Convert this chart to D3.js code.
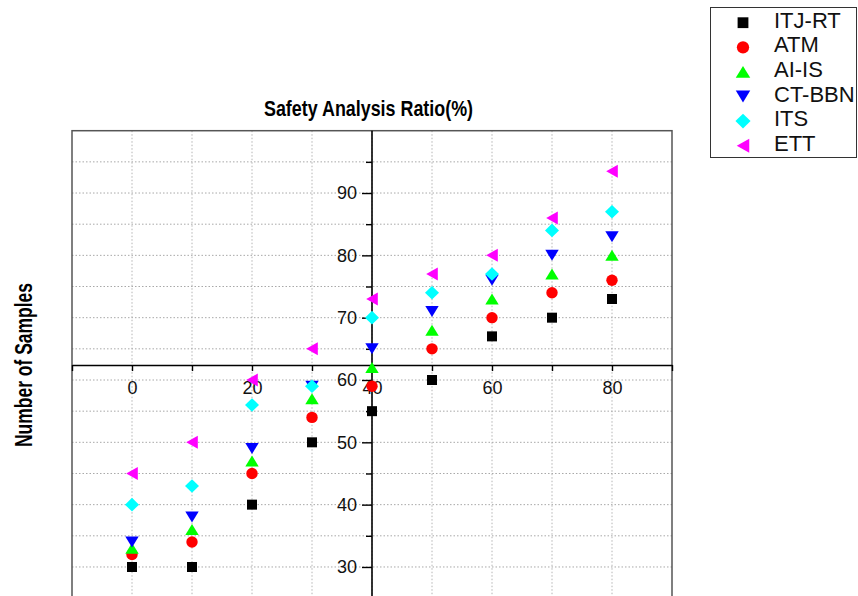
<!DOCTYPE html>
<html>
<head>
<meta charset="utf-8">
<script src="https://cdn.jsdelivr.net/npm/d3@7"></script>
<style>
  body { margin: 0; background: #fff; }
  svg { display: block; font-family: "Liberation Sans", Arial, sans-serif; }
</style>
</head>
<body>
<div id="chart"></div>
<script>
'use strict';

// Data: sample ratio (%) on x, number of samples on y, one array per method
var ratios = [0, 10, 20, 30, 40, 50, 60, 70, 80]
var seriesNames = ['ITJ-RT', 'ATM', 'AI-IS', 'CT-BBN', 'ITS', 'ETT']
var itjRt  = [30, 30, 40, 50, 55, 60, 67, 70, 73]
var atm    = [32, 34, 45, 54, 59, 65, 70, 74, 76]
var aiIs   = [33, 36, 47, 57, 62, 68, 73, 77, 80]
var ctBbn  = [34, 38, 49, 59, 65, 71, 76, 80, 83]
var its    = [40, 43, 56, 59, 70, 74, 77, 84, 87]
var ett    = [45, 50, 60, 65, 73, 77, 80, 86, 93.5]
var xTicks = [0, 20, 40, 60, 80]
var yTicks = [30, 40, 50, 60, 70, 80, 90]

var width = 858, height = 596

var x = d3.scaleLinear().domain([-10, 90]).range([72, 672])
var y = d3.scaleLinear().domain([20, 100]).range([629.3, 130.7])
var xAxisAt = 62.4  // value of y where the x axis crosses
var yAxisAt = 40    // value of x where the y axis crosses

var colorize = function(type){
  if (type=='ITJ-RT') return '#000000'
  if (type=='ATM') return '#ff0000'
  if (type=='AI-IS') return '#00ff00'
  if (type=='CT-BBN') return '#0000ff'
  if (type=='ITS') return '#00ffff'
  if (type=='ETT') return '#ff00ff'
  return '#999'
}

// Symbols centred on their bounding box, like the original plot
var shape = function(type){
  if (type=='ITJ-RT') return 'M-5,-5h10v10h-10z'
  if (type=='ATM') return 'M5.7,0A5.7,5.7,0,1,1,-5.7,0A5.7,5.7,0,1,1,5.7,0Z'
  if (type=='AI-IS') return 'M0,-5.5L6.7,5.5L-6.7,5.5Z'
  if (type=='CT-BBN') return 'M0,5.5L6.7,-5.5L-6.7,-5.5Z'
  if (type=='ITS') return 'M0,-6.8L7,0L0,6.8L-7,0Z'
  if (type=='ETT') return 'M-5.8,0L5.8,-6.5L5.8,6.5Z'
  return ''
}

var series = [itjRt, atm, aiIs, ctBbn, its, ett].map(function(values, i){
  return {
    type: seriesNames[i],
    values: values.map(function(v, j){ return {x: ratios[j], y: v} })
  }
})

var svg = d3.select('#chart').append('svg')
  .attr('width', width)
  .attr('height', height)

// Grid
var grid = svg.append('g').attr('class', 'grid')

grid.selectAll('.vgrid')
  .data(d3.range(0, 81, 10))
  .enter().append('line')
    .attr('class', 'vgrid')
    .attr('x1', function(d){ return x(d) })
    .attr('x2', function(d){ return x(d) })
    .attr('y1', y(100))
    .attr('y2', y(20))
    .style('stroke', '#b4b4b4')
    .style('stroke-width', 1)
    .style('stroke-dasharray', '1.5,2')

grid.selectAll('.hgrid')
  .data(d3.range(25, 96, 5))
  .enter().append('line')
    .attr('class', 'hgrid')
    .attr('x1', x(-10))
    .attr('x2', x(90))
    .attr('y1', function(d){ return y(d) })
    .attr('y2', function(d){ return y(d) })
    .style('stroke', '#a8a8a8')
    .style('stroke-width', 1)
    .style('stroke-dasharray', '1.5,2')

// Frame
svg.append('rect')
  .attr('x', x(-10))
  .attr('y', y(100))
  .attr('width', x(90) - x(-10))
  .attr('height', y(20) - y(100))
  .style('fill', 'none')
  .style('stroke', '#555')
  .style('stroke-width', 1.5)

// X axis, crossing in the middle
var xAxis = d3.axisBottom(x)
  .tickValues(d3.range(-10, 91, 10))
  .tickSize(6)
  .tickSizeOuter(0)
  .tickFormat(function(d){ return xTicks.indexOf(d) >= 0 ? d : '' })

var gx = svg.append('g')
  .attr('class', 'axis axis--x')
  .attr('transform', 'translate(0,' + y(xAxisAt) + ')')
  .call(xAxis)

gx.select('.domain').style('stroke', '#000').style('stroke-width', 1.6)
gx.selectAll('.tick line').style('stroke', '#000').style('stroke-width', 1.4)
gx.selectAll('.tick text')
  .attr('y', 16)
  .style('font-size', '18px')
  .style('fill', '#111')

// Y axis, crossing at x = 40
var yAxis = d3.axisLeft(y)
  .tickValues(d3.range(25, 96, 5))
  .tickSize(10)
  .tickSizeOuter(0)
  .tickFormat(function(d){ return yTicks.indexOf(d) >= 0 ? d : '' })

var gy = svg.append('g')
  .attr('class', 'axis axis--y')
  .attr('transform', 'translate(' + x(yAxisAt) + ',0)')
  .call(yAxis)

gy.select('.domain')
  .attr('d', 'M0,' + y(100) + 'V' + y(20))
  .style('stroke', '#000')
  .style('stroke-width', 1.6)
gy.selectAll('.tick line')
  .attr('x2', function(d){ return yTicks.indexOf(d) >= 0 ? -10 : -6 })
  .style('stroke', '#000')
  .style('stroke-width', 1.4)
gy.selectAll('.tick text')
  .attr('x', -15)
  .style('font-size', '18px')
  .style('fill', '#111')

// Points
var curve = svg.selectAll('.curve')
  .data(series)
  .enter().append('g')
    .attr('class', 'curve')

curve.selectAll('path')
  .data(function(d){ return d.values.map(function(v){ return {type: d.type, x: v.x, y: v.y} }) })
  .enter().append('path')
    .attr('transform', function(d){ return 'translate(' + x(d.x) + ',' + y(d.y) + ')' })
    .attr('d', function(d){ return shape(d.type) })
    .style('fill', function(d){ return colorize(d.type) })

// Titles
svg.append('text')
  .attr('x', 368.5)
  .attr('y', 115.5)
  .attr('text-anchor', 'middle')
  .attr('textLength', 209)
  .attr('lengthAdjust', 'spacingAndGlyphs')
  .style('font-size', '22px')
  .style('font-weight', 'bold')
  .text('Safety Analysis Ratio(%)')

svg.append('text')
  .attr('transform', 'translate(32,365) rotate(-90)')
  .attr('text-anchor', 'middle')
  .attr('textLength', 164)
  .attr('lengthAdjust', 'spacingAndGlyphs')
  .style('font-size', '23px')
  .style('font-weight', 'bold')
  .text('Number of Samples')

// Legend
var legend = svg.append('g').attr('class', 'legend')

legend.append('rect')
  .attr('x', 710.5)
  .attr('y', 7.5)
  .attr('width', 146)
  .attr('height', 150)
  .style('fill', '#fff')
  .style('stroke', '#333')
  .style('stroke-width', 1)

var item = legend.selectAll('.item')
  .data(seriesNames)
  .enter().append('g')
    .attr('class', 'item')
    .attr('transform', function(d, i){ return 'translate(743,' + (22.7 + i * 24.6) + ')' })

item.append('path')
  .attr('d', function(d){ return shape(d) })
  .attr('transform', 'scale(1.08)')
  .style('fill', function(d){ return colorize(d) })

item.append('text')
  .attr('x', 31)
  .attr('y', 5)
  .style('font-size', '22px')
  .style('fill', '#111')
  .text(function(d){ return d })
</script>
</body>
</html>
